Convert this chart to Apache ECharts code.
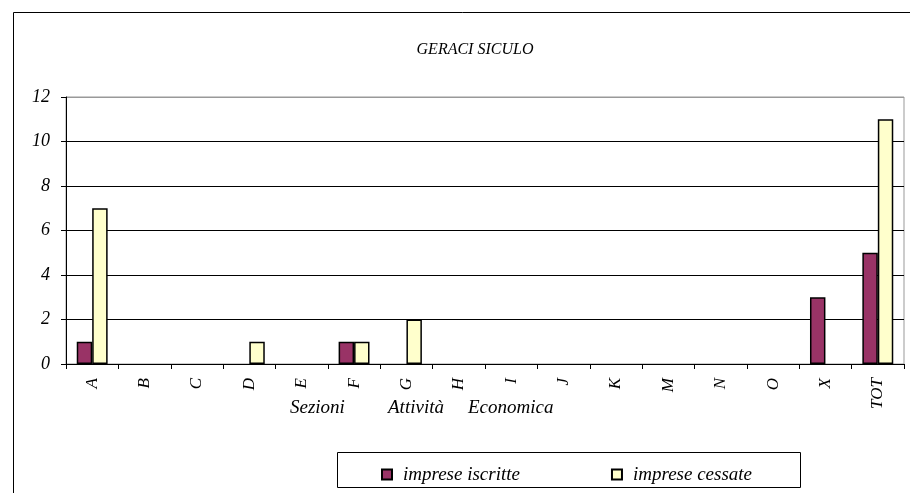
<!DOCTYPE html>
<html>
<head>
<meta charset="utf-8">
<script src="https://cdn.jsdelivr.net/npm/echarts@6/dist/echarts.min.js"></script>
<style>html,body{margin:0;padding:0;background:#fff}#c{width:910px;height:493px}</style>
</head>
<body>
<div id="c"></div>
<script>
const categories = ['A','B','C','D','E','F','G','H','I','J','K','M','N','O','X','TOT'];
const iscritte = [1,0,0,0,0,1,0,0,0,0,0,0,0,0,3,5];
const cessate = [7,0,0,1,0,1,2,0,0,0,0,0,0,0,0,11];
const yTicks = [0,2,4,6,8,10,12];
const seriesNames = ['imprese iscritte','imprese cessate'];
const chartTitle = 'GERACI SICULO';
const axisWords = ['Sezioni','Attività','Economica'];

const F = 'Liberation Serif, Times New Roman, serif';
const noZero = arr => arr.map(v => v === 0 ? '-' : v);
const chart = echarts.init(document.getElementById('c'));
chart.setOption({
  animation: false,
  backgroundColor: '#fff',
  title: {
    text: chartTitle, left: 475, top: 42, textAlign: 'center', padding: 0,
    textStyle: {fontFamily: F, fontStyle: 'italic', fontWeight: 'normal', fontSize: 16, color: '#000'}
  },
  grid: {left: 66, right: 6, top: 97, bottom: 129, show: true, borderColor: '#999', borderWidth: 1, backgroundColor: 'transparent'},
  xAxis: {
    type: 'category', data: categories,
    axisLine: {lineStyle: {color: '#000', width: 1}},
    axisTick: {show: true, length: 5, lineStyle: {color: '#000'}},
    axisLabel: {rotate: 90, margin: 14, fontFamily: F, fontStyle: 'italic', fontSize: 17, color: '#000'}
  },
  yAxis: {
    type: 'value', min: yTicks[0], max: yTicks[yTicks.length-1], interval: 2,
    axisLine: {show: true, lineStyle: {color: '#000', width: 1}},
    axisTick: {show: true, length: 5, lineStyle: {color: '#000'}},
    axisLabel: {margin: 16, fontFamily: F, fontStyle: 'italic', fontSize: 18, color: '#000'},
    splitLine: {lineStyle: {color: ['#000','#000','#000','#000','#000','#000','#999'], width: 1}}
  },
  legend: {
    left: 381, top: 465, itemWidth: 10, itemHeight: 10, itemGap: 91, icon: 'rect', padding: 0,
    textStyle: {fontFamily: F, fontStyle: 'italic', fontSize: 19, color: '#000', padding: [0,0,0,6]},
    data: seriesNames
  },
  series: [
    {name: seriesNames[0], type: 'bar', data: noZero(iscritte), barGap: 0, barCategoryGap: '41%',
     itemStyle: {color: '#993366', borderColor: '#000', borderWidth: 1.5}},
    {name: seriesNames[1], type: 'bar', data: noZero(cessate), barGap: 0, barCategoryGap: '41%',
     itemStyle: {color: '#FFFFCC', borderColor: '#000', borderWidth: 1.5}}
  ],
  graphic: [
    {type: 'rect', shape: {x: 13.5, y: 12.5, width: 1000, height: 1000}, style: {fill: 'none', stroke: '#000', lineWidth: 1}, silent: true, z: 100},
    {type: 'rect', shape: {x: 337.5, y: 452.5, width: 463, height: 35}, style: {fill: 'none', stroke: '#000', lineWidth: 1}, silent: true},
    {type: 'text', left: 290, top: 398, style: {text: axisWords[0], font: 'italic 19px ' + F, fill: '#000'}},
    {type: 'text', left: 388, top: 398, style: {text: axisWords[1], font: 'italic 19px ' + F, fill: '#000'}},
    {type: 'text', left: 468, top: 398, style: {text: axisWords[2], font: 'italic 19px ' + F, fill: '#000'}}
  ]
});
</script>
</body>
</html>
